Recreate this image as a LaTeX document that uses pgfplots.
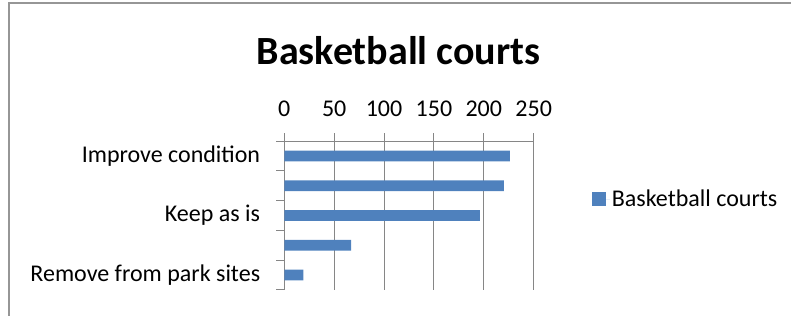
\documentclass[border=0pt]{standalone}
\usepackage{pgfplots}
\pgfplotsset{compat=1.18}
\usepackage{fontspec}
\setmainfont{Carlito}
\definecolor{barblue}{RGB}{79,129,189}
\definecolor{gridgray}{RGB}{134,134,134}
\definecolor{framegray}{RGB}{150,150,150}
\begin{document}
\begin{tikzpicture}
\path[use as bounding box] (0,0) rectangle (791bp,316bp);
\draw[framegray, line width=1.2bp] (9bp,-5bp) -- (9bp,313bp) -- (800bp,313bp);
\node[font=\fontsize{40bp}{44bp}\selectfont\bfseries, anchor=base, inner sep=0pt] at (398.5bp,251bp) {Basketball courts};
\begin{axis}[
  at={(284.3bp,26bp)}, anchor=south west,
  scale only axis, width=249.4bp, height=149bp,
  xbar, bar width=10.7bp,
  xmin=0, xmax=250,
  ymin=-0.5, ymax=4.5,
  axis x line*=top, axis y line*=left,
  axis line style={gridgray, line width=1bp, -},
  xtick={0,50,...,250},
  xmajorgrids, grid style={gridgray, line width=1bp},
  major tick style={gridgray, line width=1bp},
  tick align=outside,
  major tick length=8bp,
  ytick={-0.5,0.5,...,4.5},
  yticklabels={},
  extra y ticks={0,1,2,3,4},
  extra y tick labels={Remove from park sites,{},Keep as is,{},Improve condition},
  extra y tick style={major tick length=0pt, tick style={draw=none},
    yticklabel style={anchor=east, inner sep=0pt, xshift=-24bp}},
  ticklabel style={font=\fontsize{24bp}{28bp}\selectfont},
  /pgf/number format/assume math mode=true,
  xticklabel style={anchor=base, inner sep=0pt, yshift=16.3bp},
  legend style={at={(1.2325,0.6107)}, anchor=west, draw=none, fill=none,
    font=\fontsize{24bp}{28bp}\selectfont, inner sep=0pt,
    /tikz/every even column/.append style={column sep=0pt}},
  legend image code/.code={\fill[barblue] (0bp,-7bp) rectangle (14bp,7bp); \path (0bp,0bp) -- (18bp,0bp);},
]
\addplot[fill=barblue, draw=none] coordinates {(19,0) (67,1) (196,2) (220,3) (226,4)};
\addlegendentry{Basketball courts}
\end{axis}
\end{tikzpicture}
\end{document}
